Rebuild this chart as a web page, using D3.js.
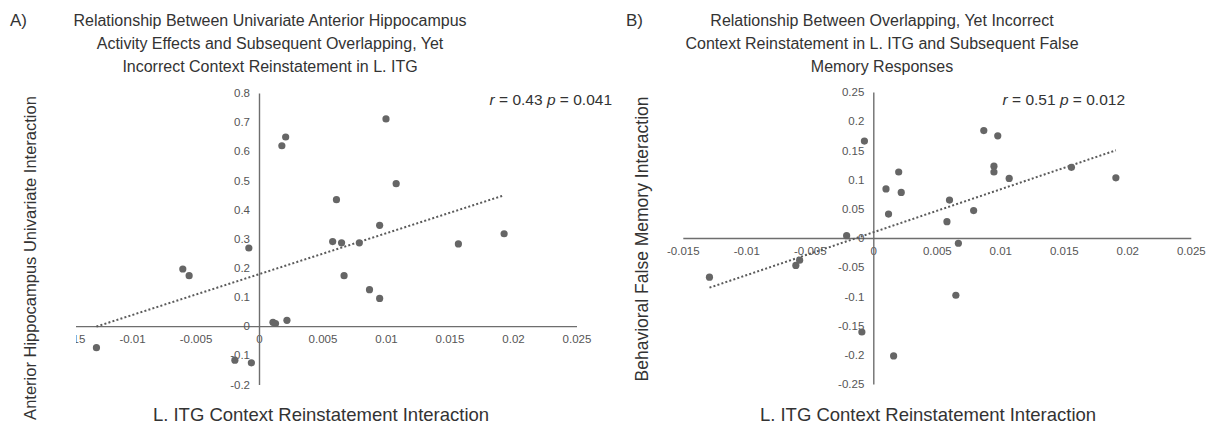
<!DOCTYPE html>
<html>
<head>
<meta charset="utf-8">
<script src="https://cdn.jsdelivr.net/npm/d3@7"></script>
<style>
  body { margin: 0; background: #fff; }
  svg { font-family: "Liberation Sans", Arial, sans-serif; }
  .tick text { fill: #555; font-size: 11.5px; }
  .domain { stroke: #6e6e6e; stroke-width: 1.4; }
</style>
</head>
<body>
<svg id="chart" width="1227" height="426"></svg>
<script>
// panel A: x = L. ITG context reinstatement, y = anterior hippocampus univariate
const xA = [-0.0128, -0.0060, -0.0055, -0.0019, -0.0008, -0.0006, 0.0011, 0.0013, 0.0018, 0.0021,
  0.0022, 0.0058, 0.0061, 0.0065, 0.0067, 0.0079, 0.0087, 0.0095, 0.0095, 0.0100, 0.0108, 0.0157, 0.0193];
const yA = [-0.074, 0.196, 0.173, -0.117, 0.268, -0.126, 0.013, 0.009, 0.619, 0.649,
  0.020, 0.290, 0.434, 0.286, 0.173, 0.286, 0.125, 0.095, 0.346, 0.711, 0.489, 0.282, 0.317];

// panel B: x = L. ITG context reinstatement, y = behavioral false memory
const xB = [-0.0129, -0.0061, -0.0058, -0.0021, -0.0009, -0.0007, 0.0010, 0.0012, 0.0016, 0.0020,
  0.0022, 0.0058, 0.0060, 0.0065, 0.0067, 0.0079, 0.0087, 0.0095, 0.0095, 0.0098, 0.0107, 0.0156, 0.0191];
const yB = [-0.067, -0.047, -0.038, 0.004, -0.161, 0.166, 0.084, 0.041, -0.202, 0.113,
  0.078, 0.028, 0.065, -0.098, -0.009, 0.047, 0.184, 0.123, 0.113, 0.175, 0.102, 0.121, 0.103];

const xTicks = [-0.015, -0.01, -0.005, 0, 0.005, 0.01, 0.015, 0.02, 0.025];
const yTicksA = [-0.2, -0.1, 0, 0.1, 0.2, 0.3, 0.4, 0.5, 0.6, 0.7, 0.8];
const yTicksB = [-0.25, -0.2, -0.15, -0.1, -0.05, 0, 0.05, 0.1, 0.15, 0.2, 0.25];

const titleA = ["Relationship Between Univariate Anterior Hippocampus",
  "Activity Effects and Subsequent Overlapping, Yet",
  "Incorrect Context Reinstatement in L. ITG"];
const titleB = ["Relationship Between Overlapping, Yet Incorrect",
  "Context Reinstatement in L. ITG and Subsequent False",
  "Memory Responses"];

const svg = d3.select("#chart");

function fit(xs, ys) {
  const mx = d3.mean(xs), my = d3.mean(ys);
  let sxy = 0, sxx = 0;
  xs.forEach((x, i) => { sxy += (x - mx) * (ys[i] - my); sxx += (x - mx) * (x - mx); });
  const b = sxy / sxx;
  return { b: b, a: my - b * mx };
}

function panel(opt) {
  const g = svg.append("g");
  const x = d3.scaleLinear().domain([-0.015, 0.025]).range(opt.xRange);
  const y = d3.scaleLinear().domain(opt.yDomain).range(opt.yRange);

  g.append("clipPath").attr("id", opt.id + "clip")
    .append("rect").attr("x", opt.clipX).attr("y", 0).attr("width", 700).attr("height", 426);

  const inner = g.append("g").attr("clip-path", `url(#${opt.id}clip)`);

  inner.append("g")
    .attr("transform", `translate(0,${y(0)})`)
    .call(d3.axisBottom(x).tickValues(xTicks).tickSize(0).tickPadding(9).tickFormat(String));

  inner.append("g")
    .attr("transform", `translate(${x(0)},0)`)
    .call(d3.axisLeft(y).tickValues(opt.yTicks).tickSize(0).tickPadding(9).tickFormat(String));

  const f = fit(opt.xs, opt.ys);
  const ext = d3.extent(opt.xs);
  inner.append("line")
    .attr("x1", x(ext[0])).attr("y1", y(f.a + f.b * ext[0]))
    .attr("x2", x(ext[1])).attr("y2", y(f.a + f.b * ext[1]))
    .attr("stroke", "#5a5a5a").attr("stroke-width", 2)
    .attr("stroke-dasharray", "2,2.2");

  inner.selectAll("circle.pt")
    .data(opt.xs.map((d, i) => [d, opt.ys[i]]))
    .enter()
    .append("circle")
    .attr("class", "pt")
    .attr("cx", (d) => x(d[0]))
    .attr("cy", (d) => y(d[1]))
    .attr("r", 3.6)
    .attr("fill", "#666");

  // panel letter and title
  g.append("text").attr("x", opt.letterX).attr("y", 26)
    .attr("font-size", 17).attr("fill", "#333").text(opt.letter);
  g.append("text").attr("text-anchor", "middle").attr("font-size", 16).attr("fill", "#333")
    .selectAll("tspan").data(opt.title).enter().append("tspan")
    .attr("x", opt.titleX).attr("y", (d, i) => 26 + i * 23)
    .text((d) => d);

  // stats
  const st = g.append("text").attr("x", opt.statX).attr("y", 105)
    .attr("text-anchor", "end").attr("font-size", 15.5).attr("fill", "#333");
  st.append("tspan").attr("font-style", "italic").text("r");
  st.append("tspan").text(` = ${opt.r} `);
  st.append("tspan").attr("font-style", "italic").text("p");
  st.append("tspan").text(` = ${opt.p}`);

  // axis titles
  g.append("text").attr("text-anchor", "middle").attr("font-size", 18.5).attr("fill", "#333")
    .attr("x", opt.xTitleX).attr("y", 421).text("L. ITG Context Reinstatement Interaction");
  g.append("text").attr("text-anchor", "middle").attr("font-size", opt.yTitleSize).attr("fill", "#333")
    .attr("transform", `translate(${opt.yTitleX},${opt.yTitleY}) rotate(-90)`)
    .text(opt.yTitle);
}

panel({
  id: "a", xs: xA, ys: yA, xRange: [68.5, 576.5], yDomain: [-0.2, 0.8], yRange: [384.4, 93],
  yTicks: yTicksA, clipX: 76, letter: "A)", letterX: 10, title: titleA, titleX: 270,
  statX: 612, r: "0.43", p: "0.041", xTitleX: 321, yTitleX: 36, yTitleY: 258, yTitleSize: 16.5,
  yTitle: "Anterior Hippocampus Univariate Interaction"
});

panel({
  id: "b", xs: xB, ys: yB, xRange: [682.8, 1190.8], yDomain: [-0.25, 0.25], yRange: [384, 92],
  yTicks: yTicksB, clipX: 600, letter: "B)", letterX: 626, title: titleB, titleX: 882,
  statX: 1125, r: "0.51", p: "0.012", xTitleX: 928, yTitleX: 648, yTitleY: 239, yTitleSize: 17.5,
  yTitle: "Behavioral False Memory Interaction"
});
</script>
</body>
</html>
